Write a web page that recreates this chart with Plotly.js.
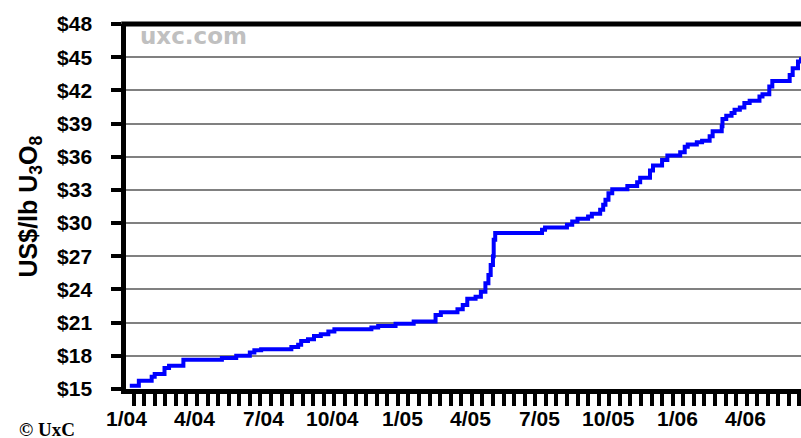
<!DOCTYPE html>
<html>
<head>
<meta charset="utf-8">
<script src="https://cdn.plot.ly/plotly-3.0.1.min.js"></script>
<style>html,body{margin:0;padding:0;background:#fff;}#chart{width:801px;height:438px;}</style>
</head>
<body>
<div id="chart"></div>
<script>
// Weekly spot price steps (date the price took effect, US$/lb U3O8)
const dates = [
  "2004-01-06","2004-01-18","2004-02-04","2004-02-08","2004-02-21","2004-02-27","2004-03-17",
  "2004-05-07","2004-05-26","2004-06-13","2004-06-19","2004-06-28","2004-08-07","2004-08-16",
  "2004-08-20","2004-08-29","2004-09-06","2004-09-15","2004-09-25","2004-10-03","2004-11-21",
  "2004-11-30","2004-12-23","2005-01-16","2005-02-14","2005-02-21","2005-03-15","2005-03-22",
  "2005-03-28","2005-04-08","2005-04-15","2005-04-21","2005-04-25","2005-04-28","2005-05-01",
  "2005-05-02","2005-05-04","2005-07-05","2005-07-09","2005-08-07","2005-08-14","2005-08-21",
  "2005-09-04","2005-09-09","2005-09-20","2005-09-24","2005-09-27","2005-10-01","2005-10-06",
  "2005-10-26","2005-11-08","2005-11-12","2005-11-25","2005-11-29","2005-12-11","2005-12-18",
  "2006-01-04","2006-01-10","2006-01-14","2006-01-26","2006-02-02","2006-02-12","2006-02-16",
  "2006-02-28","2006-03-01","2006-03-06","2006-03-13","2006-03-17","2006-03-24","2006-03-30",
  "2006-04-06","2006-04-19","2006-04-23","2006-05-02","2006-05-06","2006-05-29","2006-06-02",
  "2006-06-09","2006-06-13"
];
const prices = [
  15.3,15.75,16.1,16.35,16.9,17.1,17.65,
  17.8,18.0,18.3,18.5,18.6,18.8,19.0,
  19.35,19.5,19.8,19.95,20.2,20.4,20.55,
  20.7,20.9,21.1,21.7,21.95,22.2,22.6,
  23.15,23.35,23.8,24.55,25.3,26.2,27.0,
  28.5,29.1,29.4,29.6,29.85,30.15,30.4,
  30.6,30.85,31.2,31.65,32.1,32.7,33.05,
  33.35,33.7,34.1,34.75,35.2,35.7,36.1,
  36.4,36.9,37.1,37.3,37.45,37.85,38.3,
  38.75,39.4,39.7,39.95,40.25,40.45,40.85,
  41.05,41.45,41.65,42.35,42.85,43.4,44.0,
  44.6,45.0
];
// x tick labels (quarter starts)
const quarterDates = ["2004-01-01","2004-04-01","2004-07-01","2004-10-01","2005-01-01",
                      "2005-04-01","2005-07-01","2005-10-01","2006-01-01","2006-04-01"];
const quarterLabels = ["1/04","4/04","7/04","10/04","1/05","4/05","7/05","10/05","1/06","4/06"];
const xRange = ["2004-01-01","2006-06-13"];
const yRange = [15, 48];
const yStep = 3;
const yTitle = "US$/lb U<sub>3</sub>O<sub>8</sub>";
const watermark = "uxc.com";
const credit = "© UxC";

const fontFam = '"Liberation Sans", Arial, sans-serif';
const DAY = 86400000;

const trace = {
  x: dates, y: prices, type: 'scatter', mode: 'lines',
  line: {color: '#0000ff', width: 4, shape: 'hv'}
};

const labelFont = {family: fontFam, size: 21, color: '#000000', weight: 'bold'};

const annotations = quarterDates.map((d, i) => ({
  text: quarterLabels[i], xref: 'x', yref: 'paper', x: d, y: 0,
  xanchor: 'center', yanchor: 'middle', yshift: -29, showarrow: false, font: labelFont
}));
annotations.push(
  {text: yTitle, xref: 'paper', yref: 'paper', x: 0, y: 0.5, xanchor: 'center', yanchor: 'middle',
   xshift: -97, textangle: -90, showarrow: false,
   font: {family: fontFam, size: 25, color: '#000000', weight: 'bold'}},
  {text: watermark, xref: 'paper', yref: 'paper', x: 0, y: 1, xanchor: 'left', yanchor: 'middle',
   xshift: 12, yshift: -12, showarrow: false,
   font: {family: '"DejaVu Sans", sans-serif', size: 23, color: '#c0c0c0', weight: 'bold'}},
  {text: credit, xref: 'paper', yref: 'paper', x: 0, y: 0, xanchor: 'left', yanchor: 'middle',
   xshift: -109, yshift: -40, showarrow: false,
   font: {family: '"Liberation Serif", "Times New Roman", serif', size: 19, color: '#000000', weight: 'bold'}}
);

const layout = {
  width: 801, height: 438,
  margin: {l: 126, r: 0, t: 24, b: 49, pad: 0},
  xaxis: {
    type: 'date', range: xRange,
    gridcolor: 'rgba(0,0,0,0)',
    showline: true, linewidth: 5, linecolor: '#000',
    ticks: 'outside', ticklen: 12, tickwidth: 4, tickcolor: '#000',
    dtick: 14 * DAY, tick0: '2004-01-11',
    showticklabels: true, tickformat: ' ', tickfont: {size: 8, color: 'rgba(0,0,0,0)'}
  },
  yaxis: {
    range: yRange, dtick: yStep, tickprefix: '$', ticksuffix: '\u2002\u2009',
    gridcolor: '#808080', gridwidth: 2,
    showline: true, linewidth: 5, linecolor: '#000',
    ticks: 'outside', ticklen: 10, tickwidth: 4, tickcolor: '#000',
    tickfont: labelFont
  },
  shapes: [
    {type: 'line', xref: 'paper', yref: 'paper', x0: -0.007, x1: 1, y0: 1, y1: 1,
     line: {color: '#000000', width: 5}}
  ],
  annotations: annotations
};

Plotly.newPlot('chart', [trace], layout, {displayModeBar: false, staticPlot: true});
</script>
</body>
</html>
